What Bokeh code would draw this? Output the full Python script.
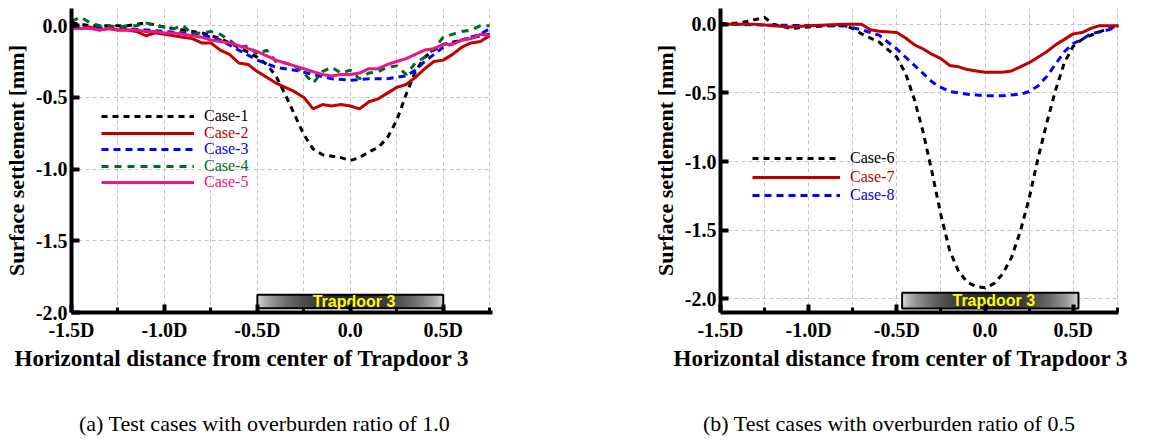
import math
from bokeh.plotting import figure
from bokeh.models import FixedTicker, Legend, LegendItem, Title, Range1d, NumeralTickFormatter, Div
from bokeh.layouts import row, column
from bokeh.core.properties import value
from bokeh.embed import file_html
from bokeh.resources import INLINE

# ---------------- data ----------------
x_tick_values = [-1.5, -1.0, -0.5, 0.0, 0.5]
x_tick_labels = ["-1.5D", "-1.0D", "-0.5D", "0.0", "0.5D"]
x_minor_values = [-1.25, -0.75, -0.25, 0.25, 0.75]
y_tick_values = [0.0, -0.5, -1.0, -1.5, -2.0]

x05 = [-1.5, -1.45, -1.4, -1.35, -1.3, -1.25, -1.2, -1.15, -1.1, -1.05, -1.0, -0.95, -0.9, -0.85,
       -0.8, -0.75, -0.7, -0.65, -0.6, -0.55, -0.5, -0.45, -0.4, -0.35, -0.3, -0.25, -0.2, -0.15,
       -0.1, -0.05, 0.0, 0.05, 0.1, 0.15, 0.2, 0.25, 0.3, 0.35, 0.4, 0.45, 0.5, 0.55, 0.6, 0.65,
       0.7, 0.75]

case1_x = [-1.5, -1.4, -1.3, -1.2, -1.1, -1.0, -0.9, -0.8, -0.7, -0.6, -0.5, -0.45, -0.4, -0.35,
           -0.3, -0.25, -0.2, -0.15, -0.1, -0.05, 0.0, 0.05, 0.1, 0.15, 0.2, 0.25, 0.3, 0.35, 0.4,
           0.45, 0.5, 0.6, 0.7, 0.75]
case1_y = [0.02, 0.0, 0.0, 0.0, 0.02, -0.01, -0.03, -0.05, -0.09, -0.15, -0.22, -0.27, -0.35, -0.48,
           -0.62, -0.76, -0.86, -0.9, -0.91, -0.92, -0.94, -0.92, -0.88, -0.85, -0.78, -0.66, -0.48,
           -0.32, -0.22, -0.17, -0.13, -0.1, -0.07, -0.06]
case2_y = [-0.01, -0.02, -0.01, -0.03, -0.02, -0.03, -0.03, -0.04, -0.07, -0.05, -0.06, -0.07, -0.08,
           -0.09, -0.12, -0.12, -0.17, -0.2, -0.26, -0.27, -0.32, -0.36, -0.4, -0.43, -0.46, -0.5,
           -0.58, -0.55, -0.56, -0.55, -0.56, -0.58, -0.53, -0.51, -0.47, -0.43, -0.41, -0.36, -0.3,
           -0.25, -0.24, -0.2, -0.15, -0.12, -0.11, -0.07]
case3_x = [-1.5, -1.4, -1.3, -1.2, -1.1, -1.0, -0.9, -0.8, -0.7, -0.6, -0.5, -0.4, -0.3, -0.2, -0.1,
           0.0, 0.1, 0.2, 0.3, 0.35, 0.4, 0.45, 0.5, 0.6, 0.7, 0.75]
case3_y = [-0.01, -0.01, -0.02, -0.02, -0.03, -0.04, -0.05, -0.06, -0.1, -0.17, -0.24, -0.29, -0.31,
           -0.34, -0.37, -0.38, -0.37, -0.37, -0.35, -0.31, -0.25, -0.2, -0.15, -0.1, -0.06, -0.02]
case4_y = [0.03, 0.06, 0.02, 0.0, 0.0, -0.01, 0.0, 0.0, 0.02, 0.0, -0.01, -0.02, 0.0, -0.06, -0.05,
           -0.04, -0.06, -0.1, -0.15, -0.14, -0.2, -0.17, -0.25, -0.26, -0.28, -0.33, -0.4, -0.32,
           -0.29, -0.33, -0.31, -0.37, -0.33, -0.32, -0.29, -0.28, -0.34, -0.26, -0.22, -0.16, -0.08,
           -0.06, -0.04, -0.03, 0.0, 0.0]
case5_y = [-0.02, -0.02, -0.02, -0.03, -0.02, -0.03, -0.03, -0.03, -0.04, -0.04, -0.05, -0.05, -0.06,
           -0.07, -0.08, -0.1, -0.11, -0.12, -0.14, -0.16, -0.18, -0.21, -0.24, -0.26, -0.28, -0.3,
           -0.32, -0.34, -0.35, -0.34, -0.34, -0.33, -0.3, -0.3, -0.27, -0.25, -0.23, -0.2, -0.17,
           -0.16, -0.13, -0.13, -0.1, -0.09, -0.06, -0.07]

case6_x = [-1.5, -1.4, -1.35, -1.25, -1.2, -1.1, -1.0, -0.9, -0.8, -0.75, -0.7, -0.6, -0.5, -0.45,
           -0.4, -0.35, -0.3, -0.25, -0.2, -0.15, -0.1, -0.05, 0.0, 0.05, 0.1, 0.15, 0.2, 0.25, 0.3,
           0.35, 0.4, 0.45, 0.5, 0.55, 0.6, 0.7, 0.76]
case6_y = [0.0, 0.01, 0.02, 0.05, 0.0, -0.03, -0.02, -0.01, -0.01, -0.03, -0.07, -0.13, -0.24, -0.36,
           -0.55, -0.79, -1.08, -1.39, -1.65, -1.8, -1.88, -1.91, -1.92, -1.89, -1.82, -1.7, -1.51,
           -1.27, -0.98, -0.72, -0.48, -0.28, -0.16, -0.11, -0.08, -0.03, -0.01]
case7_x = [-1.5, -1.3, -1.2, -1.1, -1.0, -0.8, -0.7, -0.65, -0.6, -0.5, -0.45, -0.4, -0.35, -0.3,
           -0.25, -0.2, -0.15, -0.1, -0.05, 0.0, 0.05, 0.1, 0.15, 0.2, 0.25, 0.3, 0.35, 0.4, 0.45,
           0.5, 0.55, 0.6, 0.65, 0.7, 0.76]
case7_y = [0.0, 0.0, -0.01, -0.02, -0.01, 0.0, 0.0, -0.04, -0.05, -0.06, -0.1, -0.15, -0.18, -0.22,
           -0.25, -0.3, -0.31, -0.33, -0.34, -0.35, -0.35, -0.35, -0.34, -0.31, -0.28, -0.24, -0.2,
           -0.15, -0.11, -0.07, -0.06, -0.03, -0.01, -0.01, -0.01]
case8_x = [-1.5, -1.0, -0.8, -0.7, -0.6, -0.5, -0.45, -0.4, -0.35, -0.3, -0.25, -0.2, -0.1, 0.0, 0.1,
           0.2, 0.25, 0.3, 0.35, 0.4, 0.45, 0.5, 0.55, 0.6, 0.7, 0.76]
case8_y = [0.0, -0.01, -0.01, -0.04, -0.08, -0.18, -0.24, -0.3, -0.36, -0.42, -0.46, -0.49, -0.51,
           -0.52, -0.52, -0.51, -0.49, -0.45, -0.38, -0.29, -0.2, -0.14, -0.11, -0.07, -0.04, -0.01]

trapdoor_a = [-0.5, 0.5, -1.97, -1.876]      # left, right, bottom, top
trapdoor_b = [-0.47, 0.53, -2.07, -1.957]
trapdoor_label = "Trapdoor 3"
captions = ["(a) Test cases with overburden ratio of 1.0", "(b) Test cases with overburden ratio of 0.5"]

SERIF = "Liberation Serif"


def styled_figure(xr, yr, ml, mr, mt, mb):
    p = figure(width=576, height=400, x_range=Range1d(*xr), y_range=Range1d(*yr),
               output_backend="svg", toolbar_location=None,
               min_border_left=ml, min_border_right=mr, min_border_top=mt, min_border_bottom=mb)
    p.title.visible = False
    p.outline_line_color = None
    p.background_fill_color = "white"
    p.xaxis.ticker = FixedTicker(ticks=x_tick_values, minor_ticks=x_minor_values)
    p.xaxis.major_label_overrides = dict(zip(x_tick_values, x_tick_labels))
    p.yaxis.ticker = FixedTicker(ticks=y_tick_values)
    p.yaxis.formatter = NumeralTickFormatter(format="0.0")
    for ax in (p.xaxis, p.yaxis):
        ax.axis_line_width = 4
        ax.axis_line_color = "black"
        ax.major_tick_in = 8
        ax.major_tick_out = 0
        ax.major_tick_line_width = 4
        ax.major_tick_line_color = "black"
        ax.minor_tick_in = 5
        ax.minor_tick_out = 0
        ax.minor_tick_line_width = 3
        ax.minor_tick_line_color = "black"
        ax.major_label_text_font = SERIF
        ax.major_label_text_font_style = "bold"
        ax.major_label_text_font_size = "20px"
        ax.major_label_text_color = "black"
    p.xaxis.major_label_standoff = 6
    p.yaxis.major_label_standoff = 4
    p.yaxis.axis_label = "Surface settlement [mm]"
    p.yaxis.axis_label_text_font = SERIF
    p.yaxis.axis_label_text_font_style = "bold"
    p.yaxis.axis_label_text_font_size = "22px"
    p.yaxis.axis_label_text_color = "black"
    p.yaxis.axis_label_standoff = 4
    p.xgrid.ticker = FixedTicker(ticks=sorted(x_tick_values + x_minor_values))
    p.ygrid.ticker = FixedTicker(ticks=y_tick_values)
    for g in (p.xgrid, p.ygrid):
        g.grid_line_color = "#c4c4c4"
        g.grid_line_dash = "4 3"
        g.grid_line_width = 1
    return p


def add_trapdoor(p, box):
    l, r, b, t = box
    n = 80
    w = (r - l) / n
    lefts, rights, colors = [], [], []
    for i in range(n):
        fm = (i + 0.5) / n
        g = int(232 - 190 * math.sin(math.pi * fm) ** 0.6)
        lefts.append(l + w * i)
        rights.append(min(r, l + w * (i + 1.6)))
        colors.append("#%02x%02x%02x" % (g, g, g))
    p.quad(left=lefts, right=rights, bottom=[b] * n, top=[t] * n, fill_color=colors, line_color=None)
    p.quad(left=[l], right=[r], bottom=[b], top=[t], fill_color=None, line_color="black", line_width=2)
    p.text(x=[(l + r) / 2 + 0.02], y=[(b + t) / 2], text=[trapdoor_label], text_color="#ffff00",
           text_font=value("Liberation Sans"), text_font_style="bold", text_font_size="16px",
           text_align="center", text_baseline="middle")


def add_legend_entries(p, entries, x0, ybottoms, glyph_width):
    for (label, rend, color), yb in zip(entries, ybottoms):
        leg = Legend(items=[LegendItem(label=label, renderers=[rend])], location=(x0, yb),
                     label_text_color=color, label_text_font=SERIF, label_text_font_size="16px",
                     glyph_width=glyph_width, glyph_height=16, label_height=16, label_standoff=10,
                     padding=0, margin=0, spacing=0, border_line_color=None, background_fill_alpha=0)
        p.add_layout(leg)


def add_xlabel(p, xlabel_offset):
    t1 = Title(text="Horizontal distance from center of Trapdoor 3", align="left", offset=xlabel_offset,
               text_font=SERIF, text_font_style="bold", text_font_size="23px", text_color="black",
               standoff=0)
    p.add_layout(t1, "below")


def caption_div(text, pad_left):
    return Div(text=text, width=576, height=40,
               styles={"font-family": SERIF, "font-size": "22px", "color": "black",
                       "padding-left": "%dpx" % pad_left, "padding-top": "6px",
                       "line-height": "26px", "box-sizing": "border-box", "white-space": "nowrap"})


# ---------------- panel (a) ----------------
pa = styled_figure((-1.5, 0.765), (-2.0, 0.12), 70, 84, 5, 88)
add_trapdoor(pa, trapdoor_a)
r1 = pa.line(case1_x, case1_y, line_color="black", line_width=3, line_dash="6 5")
r3 = pa.line(case3_x, case3_y, line_color="#0000ff", line_width=3, line_dash="7 5")
r4 = pa.line(x05, case4_y, line_color="#006b1e", line_width=3, line_dash="7 6")
r2 = pa.line(x05, case2_y, line_color="#c00000", line_width=3)
r5 = pa.line(x05, case5_y, line_color="#f0148c", line_width=3)
add_legend_entries(pa, [("Case-1", r1, "black"), ("Case-2", r2, "#c00000"), ("Case-3", r3, "#0000ff"),
                        ("Case-4", r4, "#006b1e"), ("Case-5", r5, "#f0148c")],
                   30, [312 - 117 - 8, 312 - 134 - 8, 312 - 150 - 8, 312 - 167 - 8, 312 - 183 - 8], 93)
add_xlabel(pa, -57)

# ---------------- panel (b) ----------------
pb = styled_figure((-1.5, 0.757), (-2.1, 0.115), 144, 34, 8, 85)
add_trapdoor(pb, trapdoor_b)
r6 = pb.line(case6_x, case6_y, line_color="black", line_width=3, line_dash="6 5")
r8 = pb.line(case8_x, case8_y, line_color="#0000ff", line_width=3, line_dash="7 5")
r7 = pb.line(case7_x, case7_y, line_color="#c00000", line_width=3)
add_legend_entries(pb, [("Case-6", r6, "black"), ("Case-7", r7, "#c00000"), ("Case-8", r8, "#0000ff")],
                   32, [315 - 162 - 8, 315 - 181 - 8, 315 - 199 - 8], 88)
add_xlabel(pb, -47)

layout = column(row(pa, pb), row(caption_div(captions[0], 74), caption_div(captions[1], 112)))
open("out.html", "w").write(file_html(layout, INLINE))
